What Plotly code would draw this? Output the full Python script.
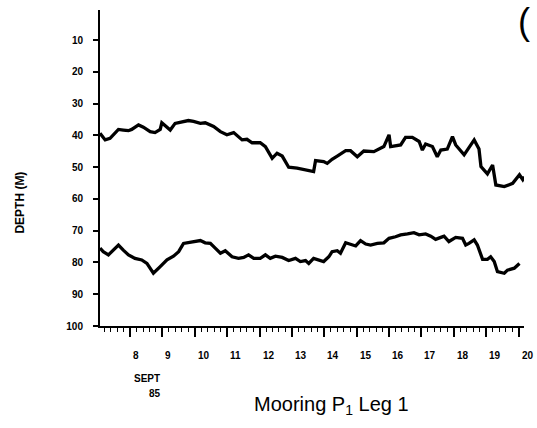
import plotly.graph_objects as go

# ---- data ----
upper_day = [7.07, 7.23, 7.38, 7.54, 7.64, 7.79, 7.95, 8.05, 8.26, 8.41, 8.62, 8.77, 8.93, 8.98,
             9.14, 9.24, 9.39, 9.55, 9.80, 9.96, 10.17, 10.32, 10.58, 10.79, 10.99, 11.20, 11.46,
             11.61, 11.77, 12.02, 12.18, 12.39, 12.54, 12.70, 12.90, 13.16, 13.47, 13.67, 13.73,
             13.98, 14.09, 14.24, 14.40, 14.66, 14.81, 15.02, 15.22, 15.53, 15.84, 16.00, 16.05,
             16.26, 16.36, 16.51, 16.72, 16.93, 17.03, 17.13, 17.34, 17.49, 17.60, 17.80, 17.96,
             18.06, 18.32, 18.63, 18.78, 18.84, 19.04, 19.20, 19.30, 19.56, 19.82, 20.03, 20.13, 20.18]
upper_depth = [39.3, 41.4, 40.9, 39.3, 38.1, 38.3, 38.5, 38.1, 36.7, 37.4, 38.8, 39.1, 38.1, 36.0,
               37.4, 38.3, 36.2, 35.9, 35.3, 35.6, 36.2, 36.0, 37.2, 38.8, 39.8, 39.1, 41.4,
               41.2, 42.3, 42.3, 43.5, 47.2, 45.6, 46.5, 50.0, 50.3, 51.1, 51.4, 47.9,
               48.2, 48.8, 47.5, 46.5, 44.8, 44.8, 46.7, 44.9, 45.1, 43.5, 39.8, 43.5,
               43.1, 43.0, 40.6, 40.6, 41.9, 44.6, 42.7, 43.5, 46.7, 44.6, 44.3, 40.4,
               43.0, 46.1, 41.4, 44.3, 49.8, 52.1, 49.3, 55.6, 56.1, 55.1, 52.4, 53.9, 53.0]

lower_day = [7.07, 7.17, 7.33, 7.48, 7.64, 7.79, 7.95, 8.15, 8.36, 8.52, 8.72, 8.93, 9.14, 9.34,
             9.50, 9.65, 9.80, 10.01, 10.17, 10.32, 10.48, 10.63, 10.79, 10.94, 11.15, 11.35,
             11.51, 11.66, 11.82, 12.02, 12.18, 12.33, 12.49, 12.70, 12.90, 13.11, 13.26, 13.42,
             13.52, 13.67, 13.88, 13.98, 14.14, 14.24, 14.40, 14.50, 14.66, 14.81, 14.97, 15.12,
             15.28, 15.43, 15.64, 15.84, 16.00, 16.20, 16.36, 16.57, 16.77, 16.93, 17.13, 17.29,
             17.44, 17.60, 17.70, 17.85, 18.06, 18.27, 18.37, 18.47, 18.63, 18.73, 18.84, 18.89,
             19.04, 19.14, 19.25, 19.35, 19.56, 19.66, 19.87, 20.03]
lower_depth = [75.5, 76.6, 77.6, 76.1, 74.5, 76.1, 77.6, 78.7, 79.2, 80.3, 83.4, 81.3, 79.2, 78.0,
               76.6, 74.0, 73.8, 73.4, 73.1, 73.8, 74.0, 75.5, 77.1, 76.3, 78.2, 78.7,
               78.4, 77.6, 78.7, 78.7, 77.6, 78.7, 78.0, 78.4, 79.4, 78.7, 79.7, 79.4,
               80.3, 78.7, 79.4, 79.7, 78.2, 76.6, 76.3, 77.1, 73.8, 74.2, 74.8, 73.1,
               74.2, 74.5, 74.0, 73.8, 72.4, 71.9, 71.3, 71.0, 70.6, 71.3, 71.0, 71.7,
               72.7, 72.1, 71.7, 73.4, 72.1, 72.4, 74.5, 74.0, 72.9, 74.5, 77.6, 79.0,
               79.0, 78.2, 79.7, 82.9, 83.4, 82.4, 81.8, 80.3]

day_ticks = [8, 9, 10, 11, 12, 13, 14, 15, 16, 17, 18, 19, 20]
day_labels = ["8", "9", "10", "11", "12", "13", "14", "15", "16", "17", "18", "19", "20"]
depth_ticks = [10, 20, 30, 40, 50, 60, 70, 80, 90, 100]
depth_labels = ["10", "20", "30", "40", "50", "60", "70", "80", "90", "100"]

FONT = "Liberation Sans"

fig = go.Figure()
for xs, ys in ((upper_day, upper_depth), (lower_day, lower_depth)):
    fig.add_trace(go.Scatter(x=xs, y=ys, mode="lines",
                             line=dict(color="black", width=3.3), hoverinfo="skip"))

fig.update_layout(
    width=537, height=428,
    margin=dict(l=100, r=13, t=10, b=102),
    plot_bgcolor="white", paper_bgcolor="white",
    showlegend=False,
    font=dict(family=FONT, color="black"),
)

fig.update_xaxes(
    range=[7.07, 20.17], showline=True, linecolor="black", linewidth=2,
    showgrid=False, zeroline=False,
    tickmode="array", tickvals=day_ticks, ticks="outside", ticklen=9,
    tickwidth=1.5, tickcolor="black", showticklabels=False,
    minor=dict(tickmode="linear", tick0=8, dtick=0.2, ticks="outside",
               ticklen=4, tickwidth=1.3, tickcolor="black", showgrid=False),
)
fig.update_yaxes(
    range=[100, 0.5], showline=True, linecolor="black", linewidth=2,
    showgrid=False, zeroline=False,
    tickmode="array", tickvals=depth_ticks, ticktext=depth_labels,
    ticks="outside", ticklen=5, tickwidth=2, tickcolor="black",
    tickfont=dict(family=FONT, size=10, weight="bold"),
    ticklabelstandoff=8,
)

annotations = []
for d, lab in zip(day_ticks, day_labels):
    annotations.append(dict(x=d, y=0, xref="x", yref="paper", text=lab,
                            xanchor="left", yanchor="top", xshift=1, yshift=-22,
                            showarrow=False,
                            font=dict(family=FONT, size=10, weight="bold")))
annotations += [
    dict(x=8, y=0, xref="x", yref="paper", text="SEPT", xanchor="left", yanchor="middle",
         xshift=2, yshift=-52, showarrow=False, font=dict(family=FONT, size=10, weight="bold")),
    dict(x=8, y=0, xref="x", yref="paper", text="85", xanchor="left", yanchor="middle",
         xshift=17, yshift=-67, showarrow=False, font=dict(family=FONT, size=10, weight="bold")),
    dict(x=0.545, y=0, xref="paper", yref="paper", text="Mooring P<sub>1</sub> Leg 1",
         xanchor="center", yanchor="middle", yshift=-79, showarrow=False,
         font=dict(family=FONT, size=20)),
    dict(x=-0.189, y=0.39, xref="paper", yref="paper", text="DEPTH (M)", textangle=-90,
         xanchor="center", yanchor="middle", showarrow=False,
         font=dict(family=FONT, size=12, weight="bold")),
    dict(x=1.0, y=0.965, xref="paper", yref="paper", text="(", xanchor="center",
         yanchor="middle", showarrow=False, font=dict(family=FONT, size=36)),
]
fig.update_layout(annotations=annotations)

fig.write_html("out.html")
